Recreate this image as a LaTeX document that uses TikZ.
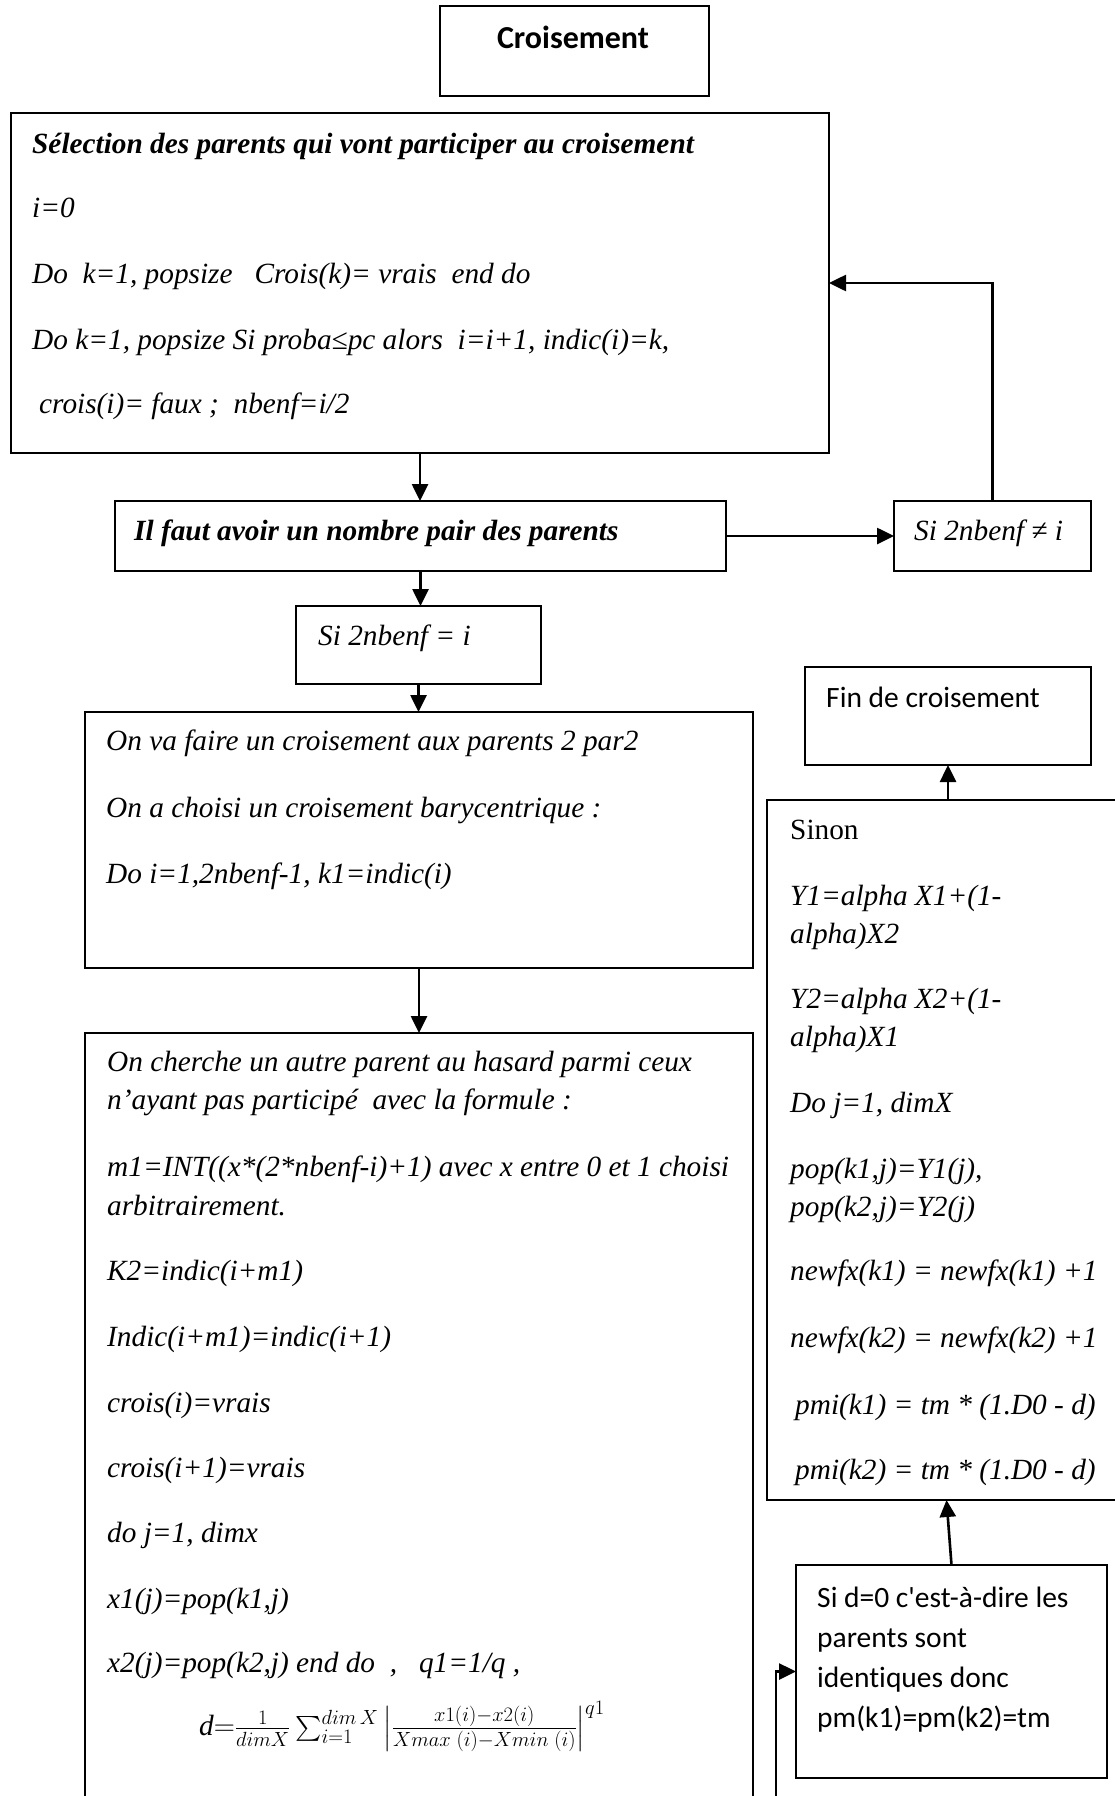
\RequirePackage{fix-cm}
\documentclass[tikz,border=0pt]{standalone}
\usepackage{amsmath}
\usepackage{fontspec}
\setmainfont{Liberation Serif}
\newfontfamily\carlitofont[Ligatures=NoCommon]{Carlito}
\usetikzlibrary{arrows.meta}
\tikzset{
  box/.style={draw, line width=2pt, inner sep=0pt, outer sep=0pt},
  arr/.style={-{Triangle[length=17pt,width=16pt]}, line width=2.6pt},
  tx/.style={anchor=base west, inner sep=0pt, font=\fontsize{29.3}{35}\selectfont\itshape},
  txb/.style={tx, font=\fontsize{29.3}{35}\selectfont\bfseries\itshape},
  txr/.style={anchor=base west, inner sep=0pt, font=\fontsize{29.3}{35}\selectfont},
  cal/.style={anchor=base west, inner sep=0pt, font=\fontsize{29.5}{35}\selectfont\carlitofont},
}
\begin{document}
\begin{tikzpicture}[x=1pt,y=-1pt]
\useasboundingbox (0,0) rectangle (1115,1796);
\clip (0,0) rectangle (1115,1796);
% boxes
\node[box, minimum width=269, minimum height=90] (cro) at (574.5,51) {};
\node[box, minimum width=818, minimum height=340] (sel) at (420,283) {};
\node[box, minimum width=611, minimum height=70] (ilf) at (420.5,536) {};
\node[box, minimum width=197, minimum height=70] (sine) at (992.5,536) {};
\node[box, minimum width=245, minimum height=78] (sieq) at (418.5,645) {};
\node[box, minimum width=668, minimum height=256] (onva) at (419,840) {};
\node[box, minimum width=668, minimum height=787] (onch) at (419,1426.5) {};
\node[box, minimum width=286, minimum height=98] (fin) at (948,716) {};
\node[box, minimum width=362, minimum height=700] (sinon) at (948,1150) {};
\node[box, minimum width=311, minimum height=213] (sid) at (951.5,1671.5) {};
% texts
\node[anchor=base, inner sep=0pt, font=\fontsize{32}{36}\selectfont\carlitofont\bfseries] (tcro) at (573,48) {Croisement};
\node[txb] (tsel1) at (32,153) {Sélection des parents qui vont participer au croisement};
\node[tx] (tsel2) at (32,217) {i=0};
\node[tx] (tsel3) at (32,283) {Do\ \ k=1, popsize\ \ \ Crois(k)= vrais\ \ end do};
\node[tx] (tsel4) at (32,349) {Do k=1, popsize Si proba≤pc alors\ \ i=i+1, indic(i)=k,};
\node[tx] (tsel5) at (39,413) {crois(i)= faux ;\ \ nbenf=i/2};
\node[txb] (tilf) at (134,540) {Il faut avoir un nombre pair des parents};
\node[tx] (tsine) at (914,540) {Si 2nbenf ≠ i};
\node[tx] (tsieq) at (318,645) {Si 2nbenf = i};
\node[tx] (tva1) at (106,750) {On va faire un croisement aux parents 2 par2};
\node[tx] (tva2) at (106,817) {On a choisi un croisement barycentrique :};
\node[tx] (tva3) at (106,883) {Do i=1,2nbenf-1, k1=indic(i)};
\node[tx] (tch1) at (107,1071) {On cherche un autre parent au hasard parmi ceux};
\node[tx] (tch2) at (107,1109) {n’ayant pas participé\ \ avec la formule :};
\node[tx] (tch3) at (107,1176) {m1=INT((x*(2*nbenf-i)+1) avec x entre 0 et 1 choisi};
\node[tx] (tch4) at (107,1215) {arbitrairement.};
\node[tx] (tch5) at (107,1280) {K2=indic(i+m1)};
\node[tx] (tch6) at (107,1346) {Indic(i+m1)=indic(i+1)};
\node[tx] (tch7) at (107,1412) {crois(i)=vrais};
\node[tx] (tch8) at (107,1477) {crois(i+1)=vrais};
\node[tx] (tch9) at (107,1542) {do j=1, dimx};
\node[tx] (tch10) at (107,1608) {x1(j)=pop(k1,j)};
\node[tx] (tch11) at (107,1672) {x2(j)=pop(k2,j) end do\ \ ,\ \ \ q1=1/q ,};
\node[anchor=west, inner sep=0pt, font=\fontsize{29.3}{35}\selectfont] (tform) at (199,1726)
  {$\mathit{d}{=}\frac{1}{dimX}\sum_{i=1}^{dim\,X}\left|\frac{x1(i)-x2(i)}{Xmax\;(i)-Xmin\;(i)}\right|^{q1}$};
\node[cal] (tfin) at (826,707) {Fin de croisement};
\node[txr] (tsn1) at (790,839) {Sinon};
\node[tx] (tsn2) at (790,905) {Y1=alpha X1+(1-};
\node[tx] (tsn3) at (790,943) {alpha)X2};
\node[tx] (tsn4) at (790,1008) {Y2=alpha X2+(1-};
\node[tx] (tsn5) at (790,1046) {alpha)X1};
\node[tx] (tsn6) at (790,1112) {Do j=1, dimX};
\node[tx] (tsn7) at (790,1178) {pop(k1,j)=Y1(j),};
\node[tx] (tsn8) at (790,1216) {pop(k2,j)=Y2(j)};
\node[tx] (tsn9) at (790,1280) {newfx(k1) = newfx(k1) +1};
\node[tx] (tsn10) at (790,1347) {newfx(k2) = newfx(k2) +1};
\node[tx] (tsn11) at (795,1414) {pmi(k1) = tm * (1.D0 - d)};
\node[tx] (tsn12) at (795,1479) {pmi(k2) = tm * (1.D0 - d)};
\node[cal] (tsd1) at (817,1607) {Si d=0 c'est-à-dire les};
\node[cal] (tsd2) at (817,1647) {parents sont};
\node[cal] (tsd3) at (817,1687) {identiques donc};
\node[cal] (tsd4) at (817,1727) {pm(k1)=pm(k2)=tm};
% connectors
\draw[arr] (sel.south) -- (sel.south |- ilf.north);
\draw[arr] (ilf.east) -- (sine.west);
\draw[arr] (sine.north) |- (sel.east);
\draw[arr] (ilf.south) -- (ilf.south |- sieq.north);
\draw[arr] (sieq.south) -- (sieq.south |- onva.north);
\draw[arr] (onva.south) -- (onva.south |- onch.north);
\draw[arr] (sinon.north) -- (fin.south);
\draw[arr] (sid.north) -- ([xshift=-1.5pt]sinon.south);
\coordinate (feed) at (776,1800);
\draw[arr] (feed) |- (sid.west);
\end{tikzpicture}
\end{document}
